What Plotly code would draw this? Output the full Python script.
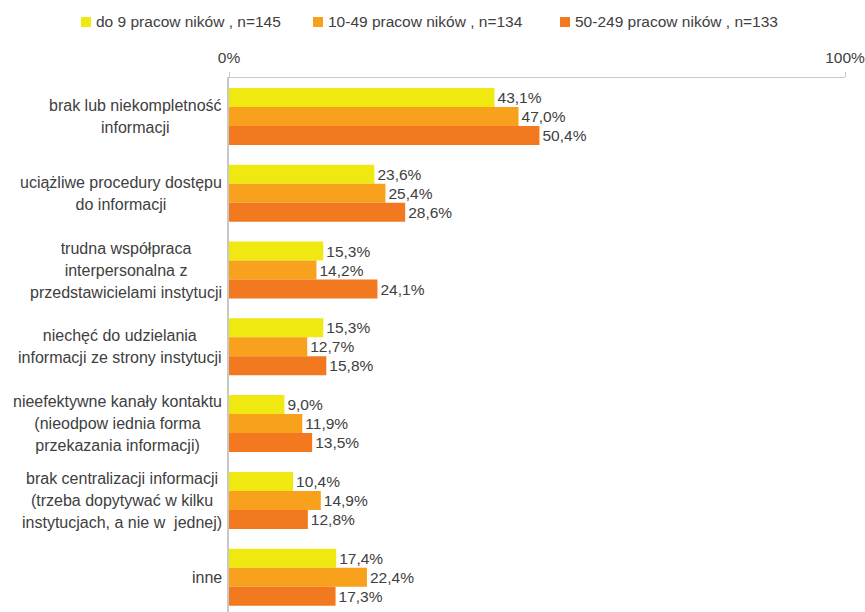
import plotly.graph_objects as go

categories = [
    "brak lub niekompletność<br>informacji",
    "uciążliwe procedury dostępu<br>do informacji",
    "trudna współpraca<br>interpersonalna z<br>przedstawicielami instytucji",
    "niechęć do udzielania<br>informacji ze strony instytucji",
    "nieefektywne kanały kontaktu<br>(nieodpow iednia forma<br>przekazania informacji)",
    "brak centralizacji informacji<br>(trzeba dopytywać w kilku<br>instytucjach, a nie w  jednej)",
    "inne",
]
series_names = [
    "do 9 pracow ników , n=145",
    "10-49 pracow ników , n=134",
    "50-249 pracow ników , n=133",
]
do_9 = [43.1, 23.6, 15.3, 15.3, 9.0, 10.4, 17.4]
od_10_49 = [47.0, 25.4, 14.2, 12.7, 11.9, 14.9, 22.4]
od_50_249 = [50.4, 28.6, 24.1, 15.8, 13.5, 12.8, 17.3]
x_tick_vals = [0, 100]
x_tick_labels = ["0%", "100%"]

colors = ["#EFE811", "#F7A11D", "#F37920"]
FONT = "Liberation Sans, Arial, sans-serif"
TXT = "#404040"

W, H = 865, 612
L, R, T, B = 229, 20, 78, 0
pw, ph = W - L - R, H - T - B
PITCH = 76.8


def px_x(px):
    return (px - L) / pw


def px_y(py):
    return (H - B - py) / ph


fig = go.Figure()
for name, vals, col in zip(series_names, [do_9, od_10_49, od_50_249], colors):
    fig.add_trace(go.Bar(
        name=name, y=categories, x=vals, orientation="h",
        marker=dict(color=col, line=dict(width=0)),
        text=[f"{v:.1f}%".replace(".", ",") for v in vals],
        textposition="outside", cliponaxis=False, constraintext="none",
        textfont=dict(family=FONT, size=15.5, color=TXT),
        showlegend=False, hoverinfo="skip",
    ))

# category labels (centered lines, right-anchored block); larger base font gives
# taller line spacing while the spans keep the glyphs at 16px
for c in categories:
    styled = "<br>".join(
        f"<span style='font-size:16px'>{ln}</span>" for ln in c.split("<br>")
    )
    fig.add_annotation(
        x=px_x(224), xref="paper", y=c, yref="y", text=styled,
        xanchor="right", yanchor="middle", align="center", showarrow=False,
        font=dict(family=FONT, size=17, color=TXT),
    )

# custom legend
leg_sq_x = [81, 313, 560]
for name, col, sx in zip(series_names, colors, leg_sq_x):
    fig.add_shape(type="rect", xref="paper", yref="paper",
                  x0=px_x(sx), x1=px_x(sx + 10), y0=px_y(27), y1=px_y(17),
                  fillcolor=col, line=dict(width=0))
    fig.add_annotation(x=px_x(sx + 13), xref="paper", y=px_y(22), yref="paper",
                       text=name, xanchor="left", yanchor="middle", showarrow=False,
                       font=dict(family=FONT, size=15.5, color=TXT))

fig.update_layout(
    width=W, height=H,
    margin=dict(l=L, r=R, t=T, b=B, pad=0),
    paper_bgcolor="white", plot_bgcolor="white",
    barmode="group", bargap=(PITCH - 57) / PITCH, bargroupgap=0,
    xaxis=dict(
        side="top", range=[0, 100], tickvals=x_tick_vals, ticktext=x_tick_labels,
        showgrid=False, zeroline=False, showline=True, linecolor="#c8c8c8", linewidth=1,
        ticks="outside", ticklen=5, tickcolor="#c8c8c8", tickwidth=1,
        ticklabelstandoff=3, ticklabeloverflow="allow",
        tickfont=dict(family=FONT, size=15.5, color=TXT),
    ),
    yaxis=dict(
        range=[-0.5 + (H - B - T) / PITCH, -0.5], showticklabels=False,
        showgrid=False, zeroline=False, showline=True, linecolor="#c8c8c8", linewidth=2,
        ticks="",
    ),
    font=dict(family=FONT, size=15, color=TXT),
)

fig.write_html(
    "out.html",
    config={"displayModeBar": False},
    post_script="document.body.style.margin='0';document.body.style.overflow='hidden';",
)
